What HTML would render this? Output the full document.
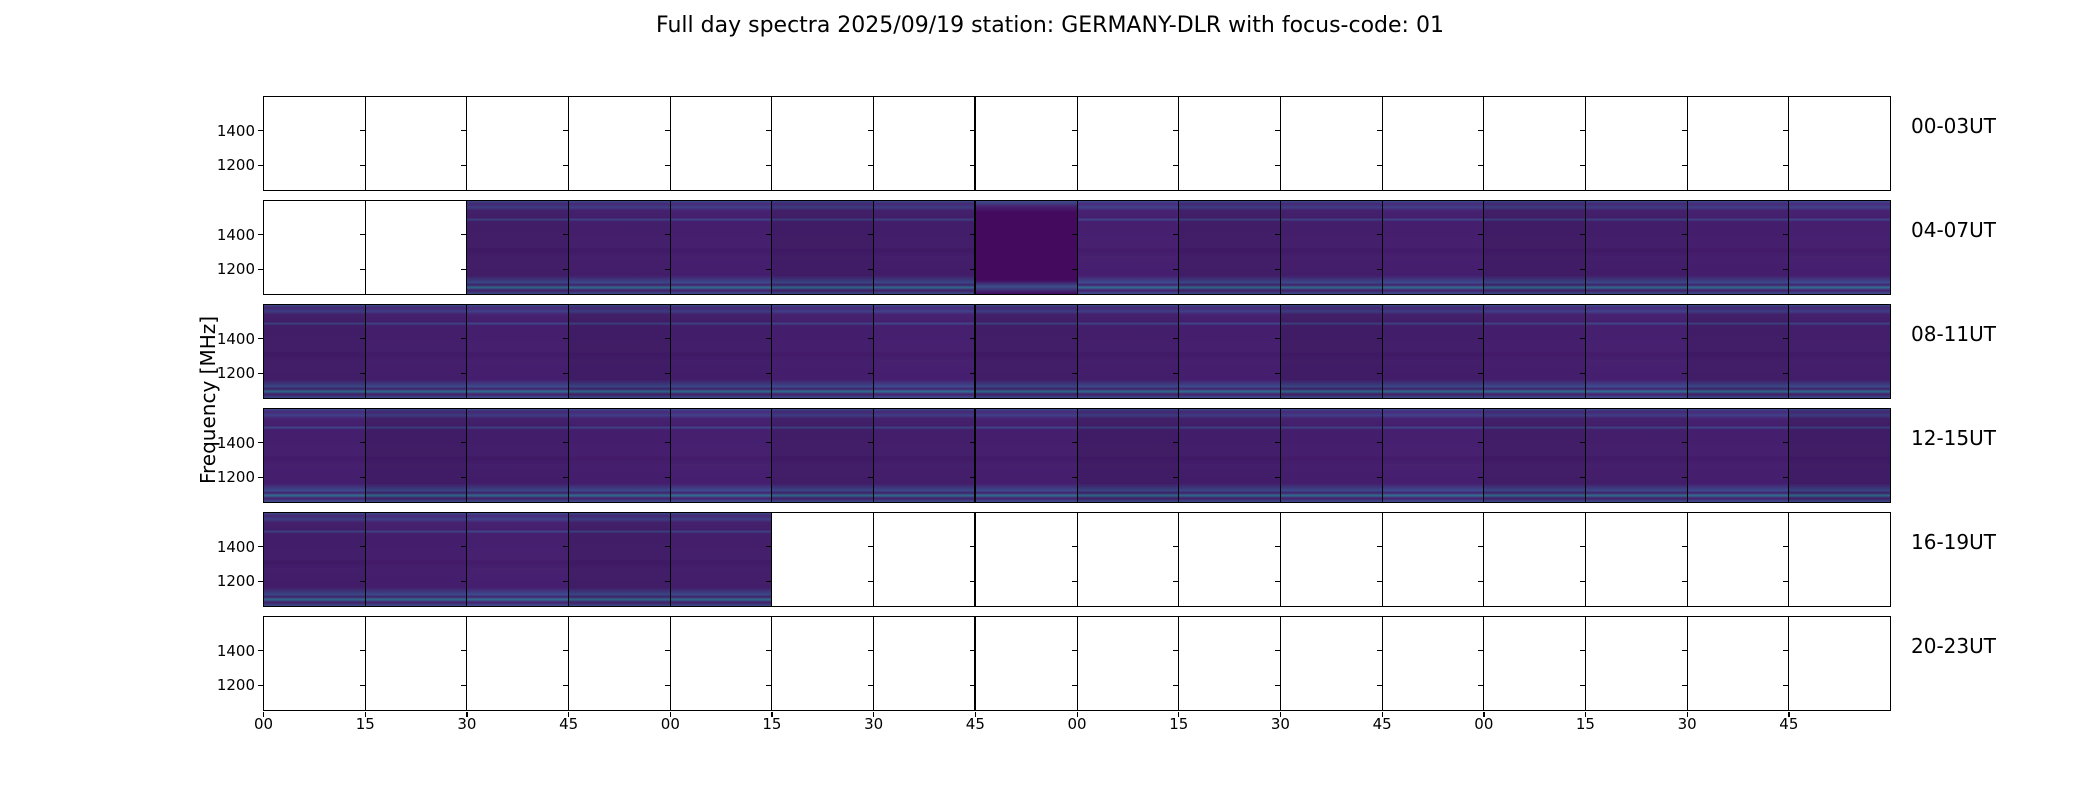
<!DOCTYPE html>
<html><head><meta charset="utf-8"><style>
body{margin:0;background:#fff;width:2100px;height:800px;position:relative;overflow:hidden;font-family:"DejaVu Sans","Liberation Sans",sans-serif;color:#000}
.p{position:absolute;box-sizing:border-box;border:1.3px solid #000;background:#fff}
.d{background:
linear-gradient(to bottom,#3a4a8a 0%,#482878 3%,#3e3f86 7%,#46226f 10%,#441e6c 18%,#3d4686 20%,#441e6c 22%,#451f6d 50%,#421a68 52%,#451f6d 60%,#441d6c 80%,#3a4a8a 88%,#451f6d 90%,#2f6d8e 93%,#451f6d 96%,#3b4f8a 100%)}
.dk{background:linear-gradient(to bottom,#3b4f8a 0%,#46216f 6%,#440a5e 12%,#440a5e 85%,#3b4f8a 92%,#440a5e 100%)}
.t{position:absolute;font-size:15px}
.yt{position:absolute;width:5px;height:1.3px;background:#000}
</style></head><body>
<div style="position:absolute;top:13px;left:0;width:2100px;text-align:center;font-size:22px">Full day spectra 2025/09/19 station: GERMANY-DLR with focus-code: 01</div>
<div style="position:absolute;left:208px;top:400px;transform:translate(-50%,-50%) rotate(-90deg);font-size:20px;white-space:nowrap">Frequency [MHz]</div>
<div id="c"></div>
<script>
var c=document.getElementById('c'),h='';
var L=263,W=1627/16,T=96,P=104,H=95;
var labels=['00-03UT','04-07UT','08-11UT','12-15UT','16-19UT','20-23UT'];
function data(r,i){if(r==1)return i>=2;if(r==2||r==3)return true;if(r==4)return i<=4;return false;}
for(var r=0;r<6;r++){
 var y=T+r*P;
 for(var i=0;i<16;i++){
  var x=L+i*W;
  var dk=(r==1&&i==7);
  var cls='p'+(data(r,i)?(dk?' dk':' d'):'');
  var hue=((i*37+r*11)%7);
  h+='<div class="'+cls+'" style="left:'+x.toFixed(1)+'px;top:'+y+'px;width:'+(W+1.3).toFixed(1)+'px;height:'+H+'px;'+(data(r,i)&&!dk?'filter:brightness('+(0.94+hue*0.015)+')':'')+'"></div>';
  h+='<div class="yt" style="left:'+(x-5).toFixed(1)+'px;top:'+(y+34)+'px"></div>';
  h+='<div class="yt" style="left:'+(x-5).toFixed(1)+'px;top:'+(y+68.5)+'px"></div>';
 }
 h+='<div style="position:absolute;left:'+(L+7*W-1).toFixed(1)+'px;top:'+y+'px;width:2.2px;height:'+H+'px;background:#000"></div>';
 h+='<div class="t" style="right:'+(2100-255)+'px;top:'+(y+26)+'px">1400</div>';
 h+='<div class="t" style="right:'+(2100-255)+'px;top:'+(y+60)+'px">1200</div>';
 h+='<div class="t" style="left:1911px;top:'+(y+18)+'px;font-size:20px">'+labels[r]+'</div>';
}
var xl=['00','15','30','45'];
for(var i=0;i<16;i++){var x=L+i*W;
 h+='<div style="position:absolute;left:'+x.toFixed(1)+'px;top:712px;width:1.3px;height:5px;background:#000"></div>';
 h+='<div class="t" style="left:'+(x-9).toFixed(1)+'px;top:715px">'+xl[i%4]+'</div>';}
c.innerHTML=h;
</script>
</body></html>
